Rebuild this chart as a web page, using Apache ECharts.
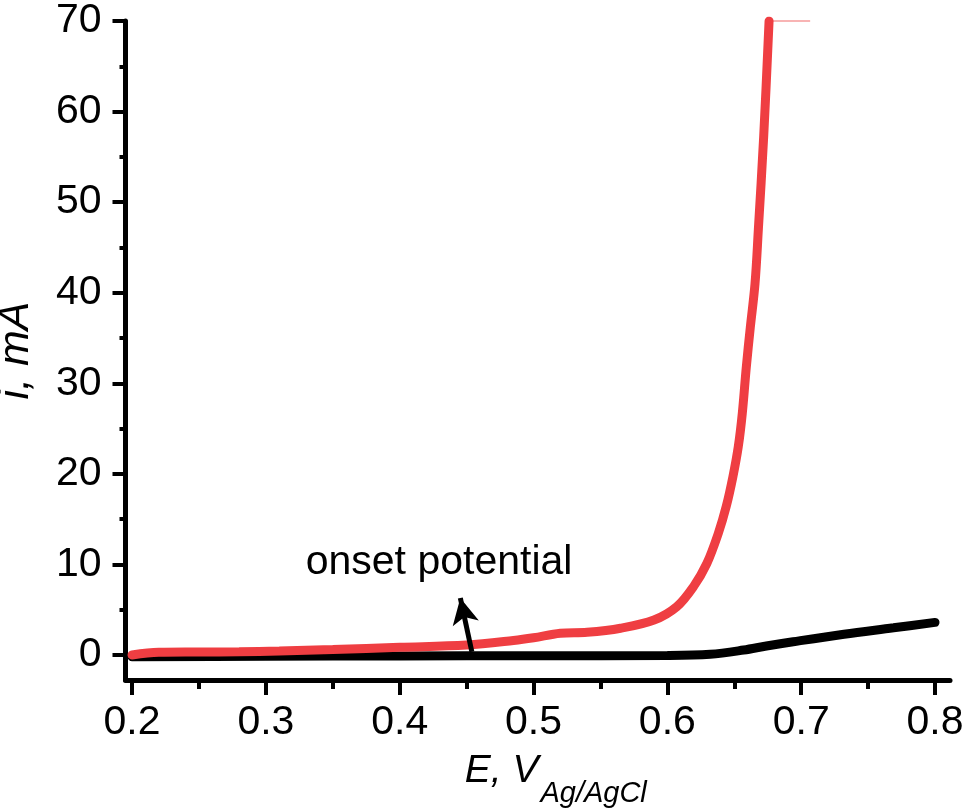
<!DOCTYPE html>
<html>
<head>
<meta charset="utf-8">
<script src="https://cdn.jsdelivr.net/npm/echarts@6/dist/echarts.min.js"></script>
<style>
  html, body { margin: 0; padding: 0; background: #fff; }
  #chart { width: 966px; height: 810px; }
</style>
</head>
<body>
<div id="chart"></div>
<script>
// values
const redE = [0.2, 0.22, 0.25, 0.28, 0.31, 0.35, 0.4, 0.45, 0.485, 0.5, 0.52, 0.54, 0.565, 0.59, 0.607, 0.6195, 0.6295, 0.638, 0.644, 0.649, 0.653, 0.656, 0.659, 0.662, 0.6655, 0.668, 0.672, 0.676];
const redI = [0.0, 0.3, 0.33, 0.36, 0.44, 0.6, 0.85, 1.1, 1.6, 1.9, 2.4, 2.5, 2.95, 3.86, 5.33, 7.54, 10.1, 13.4, 16.4, 19.7, 23.0, 26.7, 31.8, 36.2, 41, 47, 57.3, 70];
const blackE = [0.2, 0.3, 0.4, 0.5, 0.6, 0.632, 0.657, 0.674, 0.694, 0.732, 0.769, 0.8];
const blackI = [-0.2, -0.15, -0.1, -0.08, -0.05, 0.08, 0.55, 1.0, 1.47, 2.3, 3.0, 3.6];
// faint clipped trace along the top edge
const clipE = [0.673, 0.7067];
const clipI = [70, 70];

const xMajor = [0.2, 0.3, 0.4, 0.5, 0.6, 0.7, 0.8];
const xMinor = [0.25, 0.35, 0.45, 0.55, 0.65, 0.75];
const yMajor = [0, 10, 20, 30, 40, 50, 60, 70];
const yMinor = [5, 15, 25, 35, 45, 55, 65];

// annotation
const noteText = 'onset potential';
const notePos = [0.4294, 10.2];
const arrowFrom = [0.4539, 0.36];
const arrowTo = [0.4453, 6.3];

const zip = (a, b) => a.map((v, i) => [v, b[i]]);

const FONT = "'Liberation Sans', Arial, sans-serif";
const xMin = 0.1951, xMax = 0.8112;
const yMin = -2.76, yMax = 70;

let chart = echarts.init(document.getElementById('chart'));

chart.setOption({
	animation: false,
	grid: { left: 125.5, right: 16, top: 21, bottom: 130, outerBoundsMode: 'none', containLabel: false },
	xAxis: [
		{
			type: 'value', min: xMin, max: xMax,
			name: '{a|E, V}{b|Ag/AgCl}',
			nameLocation: 'middle',
			nameGap: 71,
			nameMoveOverlap: false,
			nameTextStyle: {
				padding: [0, 0, 0, 36],
				rich: {
					a: { fontFamily: FONT, fontStyle: 'italic', fontSize: 39, color: '#000', lineHeight: 40 },
					b: { fontFamily: FONT, fontStyle: 'italic', fontSize: 29, color: '#000', lineHeight: 29, padding: [46, 0, 0, 2] }
				}
			},
			splitLine: { show: false },
			axisLine: { onZero: false, lineStyle: { color: '#000', width: 5 } },
			axisTick: { customValues: xMajor, length: 15, lineStyle: { color: '#000', width: 4 } },
			axisLabel: {
				customValues: xMajor, margin: 22,
				fontFamily: FONT, fontSize: 41, color: '#000',
				formatter: v => v.toFixed(1)
			}
		},
		{
			type: 'value', min: xMin, max: xMax, position: 'bottom',
			splitLine: { show: false },
			axisLine: { show: false, onZero: false },
			axisTick: { customValues: xMinor, length: 9, lineStyle: { color: '#000', width: 4 } },
			axisLabel: { show: false }
		}
	],
	yAxis: [
		{
			type: 'value', min: yMin, max: yMax,
			name: 'i, mA',
			nameLocation: 'middle',
			nameGap: 88,
			nameMoveOverlap: false,
			nameTextStyle: { fontFamily: FONT, fontStyle: 'italic', fontSize: 43, color: '#000' },
			splitLine: { show: false },
			axisLine: { onZero: false, lineStyle: { color: '#000', width: 5 } },
			axisTick: { customValues: yMajor, length: 13, lineStyle: { color: '#000', width: 4 } },
			axisLabel: {
				customValues: yMajor, margin: 24,
				fontFamily: FONT, fontSize: 41, color: '#000'
			}
		},
		{
			type: 'value', min: yMin, max: yMax, position: 'left',
			splitLine: { show: false },
			axisLine: { show: false, onZero: false },
			axisTick: { customValues: yMinor, length: 6, lineStyle: { color: '#000', width: 4 } },
			axisLabel: { show: false }
		}
	],
	series: [
		{
			name: 'black',
			type: 'line',
			data: zip(blackE, blackI),
			smooth: 0.35,
			showSymbol: false,
			lineStyle: { color: '#000', width: 9, cap: 'round' },
			markLine: {
				silent: true,
				symbol: ['none', 'arrow'],
				symbolSize: [20, 26],
				label: { show: false },
				lineStyle: { color: '#000', width: 5, type: 'solid' },
				data: [[{ coord: arrowFrom }, { coord: arrowTo }]]
			},
			markPoint: {
				silent: true,
				symbol: 'circle',
				symbolSize: 0,
				label: {
					show: true, position: 'inside',
					formatter: noteText,
					fontFamily: FONT, fontSize: 41, color: '#000'
				},
				data: [{ coord: notePos }]
			}
		},
		{
			name: 'clip',
			type: 'line',
			data: zip(clipE, clipI),
			showSymbol: false,
			clip: false,
			lineStyle: { color: '#f8b4b4', width: 2 }
		},
		{
			name: 'red',
			type: 'line',
			data: zip(redE, redI),
			smooth: 0.35,
			showSymbol: false,
			lineStyle: { color: '#ef3e42', width: 9, cap: 'round' }
		}
	]
});
</script>
</body>
</html>
